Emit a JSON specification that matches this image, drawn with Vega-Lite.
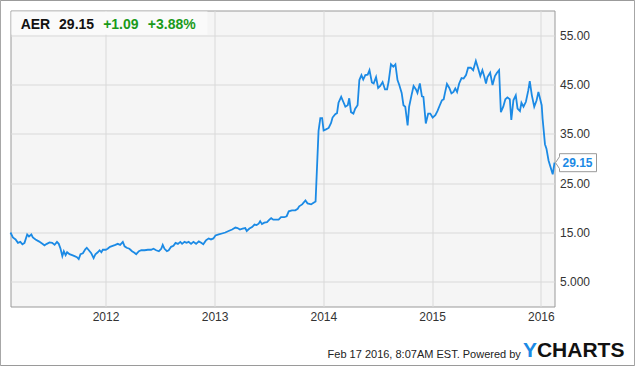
{
  "$schema": "https://vega.github.io/schema/vega-lite/v6.json",
  "width": 544,
  "height": 296,
  "autosize": {"type": "none"},
  "padding": {"left": 10.5, "top": 10.5, "right": 80.5, "bottom": 59.5},
  "background": "white",
  "config": {
    "font": "Liberation Sans",
    "view": {"fill": "#f5f5f5", "stroke": "#999999", "strokeWidth": 1}
  },
  "data": {"values": [
    {"date": "2011-02-16", "price": 15.0}, {"date": "2011-02-24", "price": 14.0}, {"date": "2011-03-05", "price": 13.6},
    {"date": "2011-03-13", "price": 12.9}, {"date": "2011-03-21", "price": 13.1}, {"date": "2011-03-28", "price": 12.6},
    {"date": "2011-04-04", "price": 12.9}, {"date": "2011-04-13", "price": 14.6}, {"date": "2011-04-19", "price": 14.2},
    {"date": "2011-04-27", "price": 14.6}, {"date": "2011-05-02", "price": 14.0}, {"date": "2011-05-11", "price": 13.6},
    {"date": "2011-05-22", "price": 13.2}, {"date": "2011-06-03", "price": 12.7}, {"date": "2011-06-10", "price": 12.4},
    {"date": "2011-06-18", "price": 12.7}, {"date": "2011-06-27", "price": 13.0}, {"date": "2011-07-06", "price": 12.9},
    {"date": "2011-07-14", "price": 12.5}, {"date": "2011-07-22", "price": 13.1}, {"date": "2011-07-28", "price": 12.7},
    {"date": "2011-08-03", "price": 11.7}, {"date": "2011-08-09", "price": 10.2}, {"date": "2011-08-14", "price": 11.2},
    {"date": "2011-08-20", "price": 10.4}, {"date": "2011-08-25", "price": 11.0}, {"date": "2011-09-02", "price": 10.6},
    {"date": "2011-09-11", "price": 10.4}, {"date": "2011-09-19", "price": 10.2}, {"date": "2011-09-27", "price": 10.0},
    {"date": "2011-10-03", "price": 9.6}, {"date": "2011-10-09", "price": 10.6}, {"date": "2011-10-17", "price": 10.8},
    {"date": "2011-10-25", "price": 11.6}, {"date": "2011-10-30", "price": 11.9}, {"date": "2011-11-06", "price": 11.4},
    {"date": "2011-11-14", "price": 10.8}, {"date": "2011-11-22", "price": 9.8}, {"date": "2011-11-28", "price": 10.6},
    {"date": "2011-12-06", "price": 11.0}, {"date": "2011-12-12", "price": 11.4}, {"date": "2011-12-18", "price": 11.0},
    {"date": "2011-12-23", "price": 11.5}, {"date": "2012-01-02", "price": 11.5}, {"date": "2012-01-08", "price": 11.7},
    {"date": "2012-01-16", "price": 12.1}, {"date": "2012-01-25", "price": 12.3}, {"date": "2012-02-03", "price": 12.5},
    {"date": "2012-02-11", "price": 12.7}, {"date": "2012-02-19", "price": 12.5}, {"date": "2012-02-28", "price": 13.1},
    {"date": "2012-03-05", "price": 12.2}, {"date": "2012-03-12", "price": 11.9}, {"date": "2012-03-21", "price": 11.7},
    {"date": "2012-03-30", "price": 11.2}, {"date": "2012-04-07", "price": 10.9}, {"date": "2012-04-13", "price": 10.6},
    {"date": "2012-04-22", "price": 11.2}, {"date": "2012-04-30", "price": 11.4}, {"date": "2012-05-11", "price": 11.4},
    {"date": "2012-05-22", "price": 11.5}, {"date": "2012-06-02", "price": 11.5}, {"date": "2012-06-10", "price": 11.7},
    {"date": "2012-06-19", "price": 11.4}, {"date": "2012-06-28", "price": 11.2}, {"date": "2012-07-06", "price": 11.7},
    {"date": "2012-07-11", "price": 12.5}, {"date": "2012-07-17", "price": 11.7}, {"date": "2012-07-25", "price": 11.2},
    {"date": "2012-07-31", "price": 11.4}, {"date": "2012-08-08", "price": 12.1}, {"date": "2012-08-16", "price": 12.3},
    {"date": "2012-08-23", "price": 12.9}, {"date": "2012-08-31", "price": 12.7}, {"date": "2012-09-08", "price": 13.1},
    {"date": "2012-09-14", "price": 12.7}, {"date": "2012-09-22", "price": 13.1}, {"date": "2012-09-29", "price": 12.9},
    {"date": "2012-10-06", "price": 13.1}, {"date": "2012-10-14", "price": 12.7}, {"date": "2012-10-22", "price": 13.1},
    {"date": "2012-10-31", "price": 12.7}, {"date": "2012-11-09", "price": 13.2}, {"date": "2012-11-17", "price": 12.9},
    {"date": "2012-11-24", "price": 12.6}, {"date": "2012-12-03", "price": 13.4}, {"date": "2012-12-12", "price": 13.8},
    {"date": "2012-12-20", "price": 13.6}, {"date": "2012-12-28", "price": 13.8}, {"date": "2013-01-04", "price": 14.4},
    {"date": "2013-01-15", "price": 14.6}, {"date": "2013-01-26", "price": 14.8}, {"date": "2013-02-06", "price": 15.0},
    {"date": "2013-02-17", "price": 15.3}, {"date": "2013-03-01", "price": 15.6}, {"date": "2013-03-12", "price": 16.0},
    {"date": "2013-03-19", "price": 15.9}, {"date": "2013-03-27", "price": 15.6}, {"date": "2013-04-05", "price": 15.8},
    {"date": "2013-04-14", "price": 15.9}, {"date": "2013-04-19", "price": 15.3}, {"date": "2013-04-28", "price": 15.8},
    {"date": "2013-05-07", "price": 16.1}, {"date": "2013-05-15", "price": 16.6}, {"date": "2013-05-22", "price": 16.5},
    {"date": "2013-05-29", "price": 16.8}, {"date": "2013-06-03", "price": 17.3}, {"date": "2013-06-09", "price": 16.7},
    {"date": "2013-06-17", "price": 17.0}, {"date": "2013-06-26", "price": 17.1}, {"date": "2013-07-04", "price": 17.6},
    {"date": "2013-07-10", "price": 17.9}, {"date": "2013-07-17", "price": 17.6}, {"date": "2013-07-26", "price": 17.6},
    {"date": "2013-08-04", "price": 17.6}, {"date": "2013-08-12", "price": 18.1}, {"date": "2013-08-23", "price": 18.1},
    {"date": "2013-08-31", "price": 18.3}, {"date": "2013-09-07", "price": 19.3}, {"date": "2013-09-18", "price": 19.5},
    {"date": "2013-09-29", "price": 19.5}, {"date": "2013-10-07", "price": 19.8}, {"date": "2013-10-12", "price": 20.3},
    {"date": "2013-10-22", "price": 20.7}, {"date": "2013-11-02", "price": 21.5}, {"date": "2013-11-09", "price": 20.9},
    {"date": "2013-11-21", "price": 20.7}, {"date": "2013-11-28", "price": 21.0}, {"date": "2013-12-06", "price": 21.3},
    {"date": "2013-12-16", "price": 35.6}, {"date": "2013-12-22", "price": 38.2}, {"date": "2013-12-28", "price": 38.2},
    {"date": "2014-01-02", "price": 35.7}, {"date": "2014-01-10", "price": 35.9}, {"date": "2014-01-19", "price": 36.2},
    {"date": "2014-01-27", "price": 37.2}, {"date": "2014-02-01", "price": 38.3}, {"date": "2014-02-10", "price": 39.0},
    {"date": "2014-02-16", "price": 39.2}, {"date": "2014-02-21", "price": 41.3}, {"date": "2014-03-02", "price": 42.5},
    {"date": "2014-03-09", "price": 41.5}, {"date": "2014-03-16", "price": 40.5}, {"date": "2014-03-24", "price": 40.8},
    {"date": "2014-03-29", "price": 42.2}, {"date": "2014-04-04", "price": 39.4}, {"date": "2014-04-12", "price": 39.1},
    {"date": "2014-04-18", "price": 40.1}, {"date": "2014-04-26", "price": 40.8}, {"date": "2014-05-02", "price": 45.9},
    {"date": "2014-05-09", "price": 46.9}, {"date": "2014-05-15", "price": 46.0}, {"date": "2014-05-22", "price": 46.9},
    {"date": "2014-05-30", "price": 47.0}, {"date": "2014-06-05", "price": 47.9}, {"date": "2014-06-13", "price": 45.4},
    {"date": "2014-06-19", "price": 45.2}, {"date": "2014-06-27", "price": 46.5}, {"date": "2014-07-04", "price": 44.3},
    {"date": "2014-07-11", "price": 44.7}, {"date": "2014-07-19", "price": 45.5}, {"date": "2014-07-27", "price": 44.0},
    {"date": "2014-08-03", "price": 44.0}, {"date": "2014-08-08", "price": 45.5}, {"date": "2014-08-16", "price": 49.1},
    {"date": "2014-08-24", "price": 48.6}, {"date": "2014-08-31", "price": 49.1}, {"date": "2014-09-07", "price": 45.9},
    {"date": "2014-09-13", "price": 44.9}, {"date": "2014-09-21", "price": 43.3}, {"date": "2014-09-27", "price": 40.8},
    {"date": "2014-10-03", "price": 40.5}, {"date": "2014-10-11", "price": 36.7}, {"date": "2014-10-16", "price": 40.5},
    {"date": "2014-10-24", "price": 42.8}, {"date": "2014-10-31", "price": 44.7}, {"date": "2014-11-08", "price": 44.0},
    {"date": "2014-11-13", "price": 43.3}, {"date": "2014-11-21", "price": 45.2}, {"date": "2014-11-28", "price": 42.6},
    {"date": "2014-12-03", "price": 42.5}, {"date": "2014-12-11", "price": 37.1}, {"date": "2014-12-19", "price": 39.1},
    {"date": "2014-12-26", "price": 39.1}, {"date": "2015-01-03", "price": 38.3}, {"date": "2015-01-12", "price": 38.8},
    {"date": "2015-01-19", "price": 39.6}, {"date": "2015-01-27", "price": 40.8}, {"date": "2015-02-03", "price": 41.8},
    {"date": "2015-02-09", "price": 42.0}, {"date": "2015-02-13", "price": 43.2}, {"date": "2015-02-20", "price": 45.1},
    {"date": "2015-02-28", "price": 44.3}, {"date": "2015-03-07", "price": 43.2}, {"date": "2015-03-14", "price": 43.5},
    {"date": "2015-03-20", "price": 44.2}, {"date": "2015-03-26", "price": 43.5}, {"date": "2015-04-02", "price": 45.2},
    {"date": "2015-04-10", "price": 46.3}, {"date": "2015-04-17", "price": 46.2}, {"date": "2015-04-25", "price": 46.9},
    {"date": "2015-05-02", "price": 48.4}, {"date": "2015-05-11", "price": 48.4}, {"date": "2015-05-19", "price": 47.9},
    {"date": "2015-05-28", "price": 49.8}, {"date": "2015-06-05", "price": 48.2}, {"date": "2015-06-12", "price": 46.7},
    {"date": "2015-06-19", "price": 47.9}, {"date": "2015-06-25", "price": 46.7}, {"date": "2015-07-01", "price": 45.2},
    {"date": "2015-07-06", "price": 46.5}, {"date": "2015-07-15", "price": 47.4}, {"date": "2015-07-23", "price": 44.9},
    {"date": "2015-07-31", "price": 46.7}, {"date": "2015-08-07", "price": 47.4}, {"date": "2015-08-14", "price": 47.9},
    {"date": "2015-08-20", "price": 39.4}, {"date": "2015-08-28", "price": 40.5}, {"date": "2015-09-04", "price": 42.0},
    {"date": "2015-09-11", "price": 42.4}, {"date": "2015-09-19", "price": 42.0}, {"date": "2015-09-24", "price": 37.8},
    {"date": "2015-10-01", "price": 41.8}, {"date": "2015-10-09", "price": 42.8}, {"date": "2015-10-15", "price": 40.1},
    {"date": "2015-10-23", "price": 39.6}, {"date": "2015-10-28", "price": 41.3}, {"date": "2015-11-04", "price": 40.5},
    {"date": "2015-11-12", "price": 41.5}, {"date": "2015-11-20", "price": 43.8}, {"date": "2015-11-25", "price": 45.7},
    {"date": "2015-12-02", "price": 42.8}, {"date": "2015-12-10", "price": 40.5}, {"date": "2015-12-18", "price": 41.8},
    {"date": "2015-12-24", "price": 43.5}, {"date": "2016-01-04", "price": 40.8}, {"date": "2016-01-07", "price": 38.1},
    {"date": "2016-01-15", "price": 32.9}, {"date": "2016-01-20", "price": 32.0}, {"date": "2016-01-27", "price": 29.6},
    {"date": "2016-02-10", "price": 26.8}, {"date": "2016-02-16", "price": 29.15}
  ]},
  "layer": [
    {
      "mark": {"type": "line", "color": "#1b8ae5", "strokeWidth": 1.8},
      "encoding": {
        "x": {
          "field": "date", "type": "temporal",
          "scale": {"type": "utc", "domain": [{"year": 2011, "month": 2, "date": 16, "utc": true}, {"year": 2016, "month": 2, "date": 16, "utc": true}]},
          "axis": {
            "title": null, "format": "%Y", "grid": true, "gridColor": "#d9d9d9", "domain": false, "ticks": false,
            "labelPadding": 5, "labelFontSize": 12, "labelColor": "#333333", "labelFont": "Liberation Sans",
            "values": [
              {"year": 2012, "month": 1, "date": 1, "utc": true},
              {"year": 2013, "month": 1, "date": 1, "utc": true},
              {"year": 2014, "month": 1, "date": 1, "utc": true},
              {"year": 2015, "month": 1, "date": 1, "utc": true},
              {"year": 2016, "month": 1, "date": 1, "utc": true}
            ]
          }
        },
        "y": {
          "field": "price", "type": "quantitative",
          "scale": {"domain": [0, 60], "nice": false, "zero": false},
          "axis": {
            "title": null, "orient": "right", "values": [5, 15, 25, 35, 45, 55],
            "labelExpr": "datum.value == 5 ? '5.000' : format(datum.value, '.2f')",
            "grid": true, "gridColor": "#d9d9d9", "domain": false, "ticks": false,
            "labelPadding": 5, "labelFontSize": 12, "labelColor": "#333333", "labelFont": "Liberation Sans"
          }
        }
      }
    },
    {
      "data": {"values": [{}]},
      "mark": {"type": "rect", "filled": false, "fill": null, "stroke": "#9a9a9a", "strokeWidth": 1},
      "encoding": {
        "x": {"datum": {"year": 2011, "month": 1, "date": 13, "utc": true}, "type": "temporal"},
        "x2": {"datum": {"year": 2016, "month": 11, "date": 11, "utc": true}},
        "y": {"datum": 62.03, "type": "quantitative"},
        "y2": {"datum": -11.96}
      }
    },
    {
      "data": {"values": [{}]},
      "mark": {"type": "rect", "fill": "#fafafa"},
      "encoding": {
        "x": {"datum": {"year": 2011, "month": 2, "date": 19, "utc": true}, "type": "temporal"},
        "x2": {"datum": {"year": 2012, "month": 12, "date": 8, "utc": true}},
        "y": {"datum": 59.8, "type": "quantitative"},
        "y2": {"datum": 55.1}
      }
    },
    {
      "data": {"values": [{}]},
      "mark": {"type": "text", "text": "AER", "align": "left", "baseline": "alphabetic", "fontSize": 14, "fontWeight": "bold", "color": "#111111"},
      "encoding": {
        "x": {"datum": {"year": 2011, "month": 3, "date": 22, "utc": true}, "type": "temporal"},
        "y": {"datum": 56.35, "type": "quantitative"}
      }
    },
    {
      "data": {"values": [{}]},
      "mark": {"type": "text", "text": "29.15", "align": "left", "baseline": "alphabetic", "fontSize": 14, "fontWeight": "bold", "color": "#111111"},
      "encoding": {
        "x": {"datum": {"year": 2011, "month": 7, "date": 29, "utc": true}, "type": "temporal"},
        "y": {"datum": 56.35, "type": "quantitative"}
      }
    },
    {
      "data": {"values": [{}]},
      "mark": {"type": "text", "text": "+1.09", "align": "left", "baseline": "alphabetic", "fontSize": 14, "fontWeight": "bold", "color": "#1a9a1a"},
      "encoding": {
        "x": {"datum": {"year": 2011, "month": 12, "date": 24, "utc": true}, "type": "temporal"},
        "y": {"datum": 56.35, "type": "quantitative"}
      }
    },
    {
      "data": {"values": [{}]},
      "mark": {"type": "text", "text": "+3.88%", "align": "left", "baseline": "alphabetic", "fontSize": 14, "fontWeight": "bold", "color": "#1a9a1a"},
      "encoding": {
        "x": {"datum": {"year": 2012, "month": 5, "date": 22, "utc": true}, "type": "temporal"},
        "y": {"datum": 56.35, "type": "quantitative"}
      }
    },
    {
      "data": {"values": [{}]},
      "mark": {"type": "point", "shape": "M0.02,0 L0.1,-0.12 L0.1,-0.18 L0.84,-0.18 L0.84,0.18 L0.1,0.18 L0.1,0.12 Z", "size": 10000, "filled": false, "fill": "white", "fillOpacity": 1, "stroke": "#999999", "strokeWidth": 1, "opacity": 1},
      "encoding": {
        "x": {"datum": {"year": 2016, "month": 2, "date": 16, "utc": true}, "type": "temporal"},
        "y": {"datum": 29.15, "type": "quantitative"}
      }
    },
    {
      "data": {"values": [{}]},
      "mark": {"type": "text", "text": "29.15", "align": "left", "baseline": "middle", "dx": 8, "fontSize": 12, "fontWeight": "bold", "color": "#1b8ae5"},
      "encoding": {
        "x": {"datum": {"year": 2016, "month": 2, "date": 16, "utc": true}, "type": "temporal"},
        "y": {"datum": 29.15, "type": "quantitative"}
      }
    },
    {
      "data": {"values": [{}]},
      "mark": {"type": "text", "text": "Feb 17 2016, 8:07AM EST. Powered by", "align": "right", "baseline": "alphabetic", "fontSize": 11, "color": "#222222"},
      "encoding": {
        "x": {"datum": {"year": 2015, "month": 10, "date": 26, "utc": true}, "type": "temporal"},
        "y": {"datum": -10.38, "type": "quantitative"}
      }
    },
    {
      "data": {"values": [{}]},
      "mark": {"type": "text", "text": "Y", "align": "left", "baseline": "alphabetic", "fontSize": 21, "fontWeight": "bold", "color": "#1b8ae5"},
      "encoding": {
        "x": {"datum": {"year": 2015, "month": 11, "date": 2, "utc": true}, "type": "temporal"},
        "y": {"datum": -10.26, "type": "quantitative"}
      }
    },
    {
      "data": {"values": [{}]},
      "mark": {"type": "text", "text": "CHARTS", "align": "left", "baseline": "alphabetic", "fontSize": 21, "fontWeight": "bold", "color": "#111111"},
      "encoding": {
        "x": {"datum": {"year": 2015, "month": 12, "date": 19, "utc": true}, "type": "temporal"},
        "y": {"datum": -10.26, "type": "quantitative"}
      }
    }
  ]
}
